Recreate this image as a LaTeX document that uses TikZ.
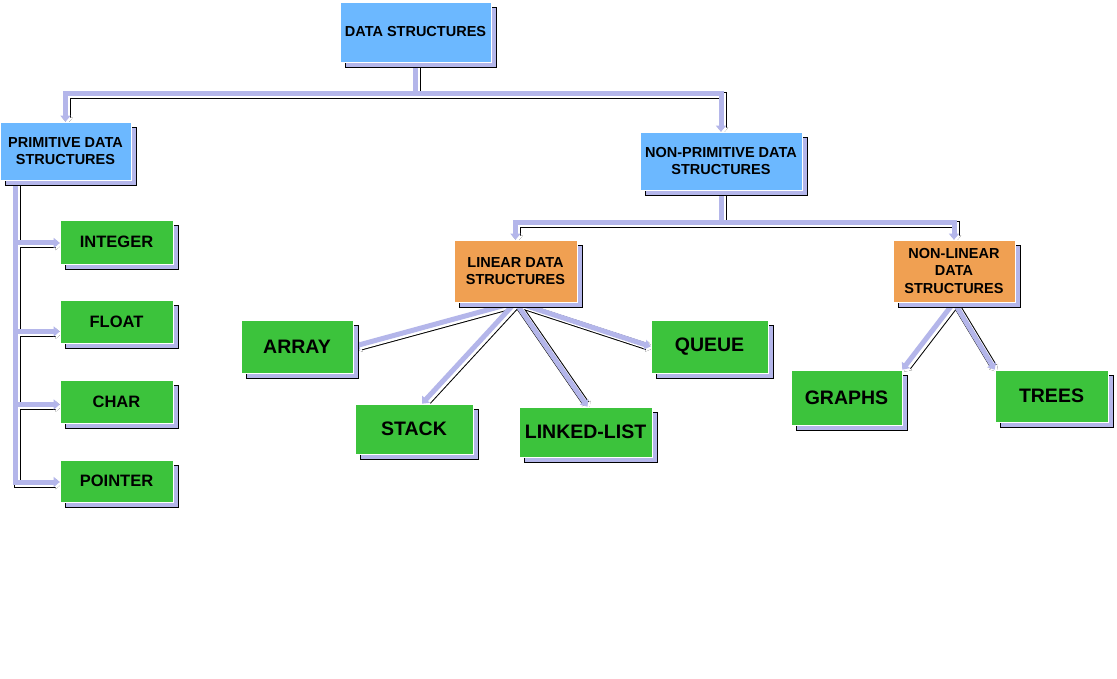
\documentclass[tikz,border=0pt]{standalone}
\usepackage{fontspec}
\setmainfont{Liberation Sans}
\usetikzlibrary{arrows.meta,shadows,calc}
\definecolor{bluebox}{HTML}{6CB8FF}
\definecolor{orangebox}{HTML}{F0A052}
\definecolor{greenbox}{HTML}{3CC33C}
\definecolor{lav}{HTML}{B4B6EA}
\pgfdeclarelayer{bg}
\pgfdeclarelayer{links}
\pgfsetlayers{bg,links,main}
\newcommand\drawlinks[1]{%
  \draw[#1] (ds.south) -- ++(0,31) coordinate (j1);
  \draw[#1,arr] (j1) -| (prim.north);
  \draw[#1,arr] (j1) -| (nonprim.north);
  \draw[#1] (nonprim.south) -- ++(0,32) coordinate (j2);
  \draw[#1,arr] (j2) -| (linear.north);
  \draw[#1,arr] (j2) -| (nonlin.north);
  \draw[#1,arr] (linear.south) -- (array.east);
  \draw[#1,arr] (linear.south) -- ($(stack.north)+(8,0)$);
  \draw[#1,arr] (linear.south) -- ($(llist.north)+(2,0)$);
  \draw[#1,arr] (linear.south) -- (queue.west);
  \draw[#1,arr] (nonlin.south) -- (graphs.north east);
  \draw[#1,arr] (nonlin.south) -- (trees.north west);
  \draw[#1,arr] ($(prim.south)+(-50.5,0)$) |- ($(integer.west)+(0,1)$);
  \draw[#1,arr] ($(prim.south)+(-50.5,0)$) |- ($(float.west)+(0,10)$);
  \draw[#1,arr] ($(prim.south)+(-50.5,0)$) |- ($(char.west)+(0,3)$);
  \draw[#1,arr] ($(prim.south)+(-50.5,0)$) |- ($(pointer.west)+(0,1)$);
}
\begin{document}
\begin{tikzpicture}[x=1pt,y=-1pt,
  box/.style={rectangle, inner sep=0pt, align=center, text=black, draw=white, line width=0.6pt,
    general shadow={fill=lav, draw=black, line width=0.8pt, shadow xshift=5pt, shadow yshift=-5pt}},
  hd/.style={box, fill=bluebox, font=\fontsize{14.5}{17.5}\selectfont\bfseries},
  mid/.style={box, fill=orangebox, font=\fontsize{14.5}{17.5}\selectfont\bfseries},
  leafs/.style={box, fill=greenbox, font=\fontsize{16.5}{19}\selectfont\bfseries},
  leafb/.style={box, fill=greenbox, font=\fontsize{19.5}{22}\selectfont\bfseries},
  arr/.style={-{Triangle[width=10pt,length=6pt]}},
  lk0/.style={draw=black, line width=7pt, transform canvas={shift={(2,2)}}},
  lk1/.style={draw=white, line width=5pt, transform canvas={shift={(2,2)}}},
  lk2/.style={draw=lav, line width=5pt}]
\useasboundingbox (0,0) rectangle (1117,679);
\begin{pgfonlayer}{bg}
\fill[white] (0,0) rectangle (1117,679);
\end{pgfonlayer}
\node[hd, minimum width=151pt, minimum height=60pt] (ds) at (415.5,32) {DATA STRUCTURES};
\node[hd, minimum width=131pt, minimum height=58pt] (prim) at (65.5,151) {PRIMITIVE DATA\\STRUCTURES};
\node[hd, minimum width=162pt, minimum height=58pt] (nonprim) at (721,161) {NON-PRIMITIVE DATA\\STRUCTURES};
\node[mid, minimum width=123pt, minimum height=62pt] (linear) at (515.5,271) {LINEAR DATA\\STRUCTURES};
\node[mid, minimum width=122pt, minimum height=62pt] (nonlin) at (954,271) {NON-LINEAR\\DATA\\STRUCTURES};
\node[leafb, minimum width=112pt, minimum height=53pt] (array) at (297,346.5) {ARRAY};
\node[leafb, minimum width=117pt, minimum height=53pt] (queue) at (709.5,346.5) {QUEUE};
\node[leafb, minimum width=118pt, minimum height=50pt] (stack) at (414,429) {STACK};
\node[leafb, minimum width=133pt, minimum height=50pt] (llist) at (585.5,432) {LINKED-LIST};
\node[leafb, minimum width=111pt, minimum height=55pt] (graphs) at (846.5,397.5) {GRAPHS};
\node[leafb, minimum width=113pt, minimum height=52pt] (trees) at (1051.5,396) {TREES};
\node[leafs, minimum width=113pt, minimum height=44pt] (integer) at (116.5,242) {INTEGER};
\node[leafs, minimum width=113pt, minimum height=43pt] (float) at (116.5,321.5) {FLOAT};
\node[leafs, minimum width=113pt, minimum height=43pt] (char) at (116.5,401.5) {CHAR};
\node[leafs, minimum width=113pt, minimum height=42pt] (pointer) at (116.5,481) {POINTER};
\begin{pgfonlayer}{links}
\drawlinks{lk0}
\drawlinks{lk1}
\drawlinks{lk2}
\end{pgfonlayer}
\end{tikzpicture}
\end{document}
